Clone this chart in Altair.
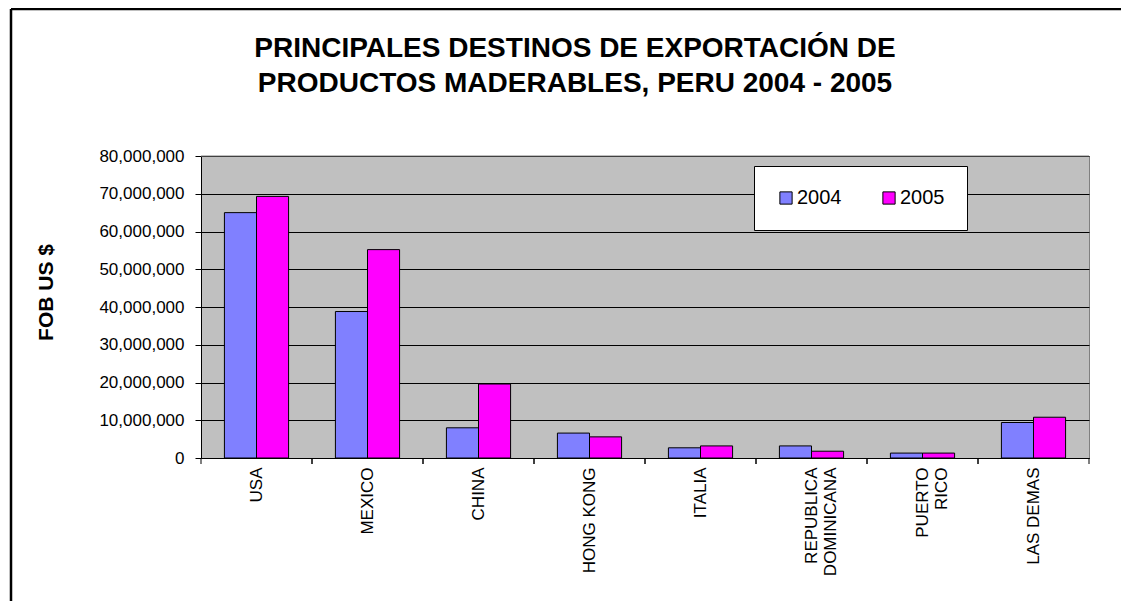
import altair as alt
import pandas as pd

FONT = "Liberation Sans, Arial, sans-serif"

CATEGORIES = ["USA", "MEXICO", "CHINA", "HONG KONG", "ITALIA",
              "REPUBLICA|DOMINICANA", "PUERTO|RICO", "LAS DEMAS"]
SERIES = ["2004", "2005"]
VALUES_2004 = [65000000, 38800000, 8000000, 6600000, 2700000, 3200000, 1300000, 9400000]
VALUES_2005 = [69300000, 55200000, 19600000, 5600000, 3200000, 1800000, 1300000, 10800000]
COLORS = ["#8080FF", "#FF00FF"]
Y_TICKS = [0, 10000000, 20000000, 30000000, 40000000, 50000000, 60000000, 70000000, 80000000]
TITLE_LINES = ["PRINCIPALES DESTINOS DE EXPORTACIÓN DE", "PRODUCTOS MADERABLES, PERU 2004 - 2005"]
Y_TITLE = "FOB US $"

rows = []
for cat, a, b in zip(CATEGORIES, VALUES_2004, VALUES_2005):
    rows.append({"destino": cat, "serie": SERIES[0], "valor": a})
    rows.append({"destino": cat, "serie": SERIES[1], "valor": b})
df = pd.DataFrame(rows)
cats_df = pd.DataFrame({"destino": CATEGORIES})
one = pd.DataFrame({"k": [0]})

W, H = 888, 302

x_scale = alt.Scale(domain=CATEGORIES, paddingInner=0, paddingOuter=0)
x_axis = alt.Axis(title=None, labelAngle=270, labelExpr="split(datum.label, '|')",
                  labelFont=FONT, labelFontSize=17, labelColor="black", labelPadding=9,
                  labelLineHeight=19, ticks=False, grid=False, domainColor="black",
                  domainWidth=1)

y_axis = alt.Axis(values=Y_TICKS, format=",.0f", title=Y_TITLE,
                  titleFont=FONT, titleFontSize=21, titleFontWeight="bold",
                  titleColor="black", titleAngle=270, titleX=-155, titleY=136,
                  titleAlign="center", titleBaseline="middle",
                  labelFont=FONT, labelFontSize=17, labelColor="black",
                  labelPadding=11, tickSize=6, tickColor="black",
                  domainColor="black", grid=True, gridColor="black", gridWidth=1)

bars = alt.Chart(df).mark_bar(stroke="black", strokeWidth=1, opacity=1).encode(
    x=alt.X("destino:N", sort=CATEGORIES, scale=x_scale, axis=x_axis),
    xOffset=alt.XOffset("serie:N", sort=SERIES,
                        scale=alt.Scale(paddingOuter=0.73, paddingInner=0)),
    y=alt.Y("valor:Q", scale=alt.Scale(domain=[0, 80000000], nice=False), axis=y_axis),
    color=alt.Color("serie:N", sort=SERIES,
                    scale=alt.Scale(domain=SERIES, range=COLORS),
                    legend=alt.Legend(title=None, orient="none", legendX=553, legendY=10,
                                      direction="horizontal", fillColor="white",
                                      strokeColor="black", padding=22,
                                      symbolType="square", symbolSize=150,
                                      symbolStrokeColor="black", symbolStrokeWidth=1,
                                      symbolOpacity=1, labelFont=FONT, labelFontSize=20,
                                      labelColor="black", labelOffset=1,
                                      columnPadding=37)),
)

ticks_a = alt.Chart(cats_df).mark_rule(color="black", strokeWidth=1).encode(
    x=alt.X("destino:N", sort=CATEGORIES, scale=x_scale, axis=x_axis, bandPosition=0),
    y=alt.value(H), y2=alt.value(H + 6),
)
ticks_b = alt.Chart(cats_df).mark_rule(color="black", strokeWidth=1).encode(
    x=alt.X("destino:N", sort=CATEGORIES, scale=x_scale, axis=x_axis, bandPosition=1),
    y=alt.value(H), y2=alt.value(H + 6),
)

# grey top edge of the plot area (over the 80,000,000 gridline)
top_edge = alt.Chart(one).mark_rule(color="#808080", strokeWidth=1).encode(
    x=alt.value(0), x2=alt.value(W), y=alt.value(0)
)

title = alt.Chart(one).mark_text(
    text=TITLE_LINES, font=FONT, fontSize=28, fontWeight="bold", color="black",
    align="center", baseline="alphabetic", lineHeight=35,
).encode(x=alt.value(374), y=alt.value(-99))

frame_top = alt.Chart(one).mark_rule(color="black", strokeWidth=2.5).encode(
    x=alt.value(-190), x2=alt.value(1200), y=alt.value(-147)
)
frame_left = alt.Chart(one).mark_rule(color="black", strokeWidth=2.5).encode(
    x=alt.value(-190), y=alt.value(-147), y2=alt.value(800)
)

chart = alt.layer(bars, ticks_a, ticks_b, top_edge, title, frame_top, frame_left).properties(
    width=W, height=H,
    autosize=alt.AutoSizeParams(type="none"),
    padding={"left": 193, "top": 148, "right": 32, "bottom": 143},
    background="white",
).configure_view(fill="#C0C0C0", stroke="#808080", strokeWidth=1)

chart.save("out.html", embed_options={"renderer": "svg", "actions": False})
